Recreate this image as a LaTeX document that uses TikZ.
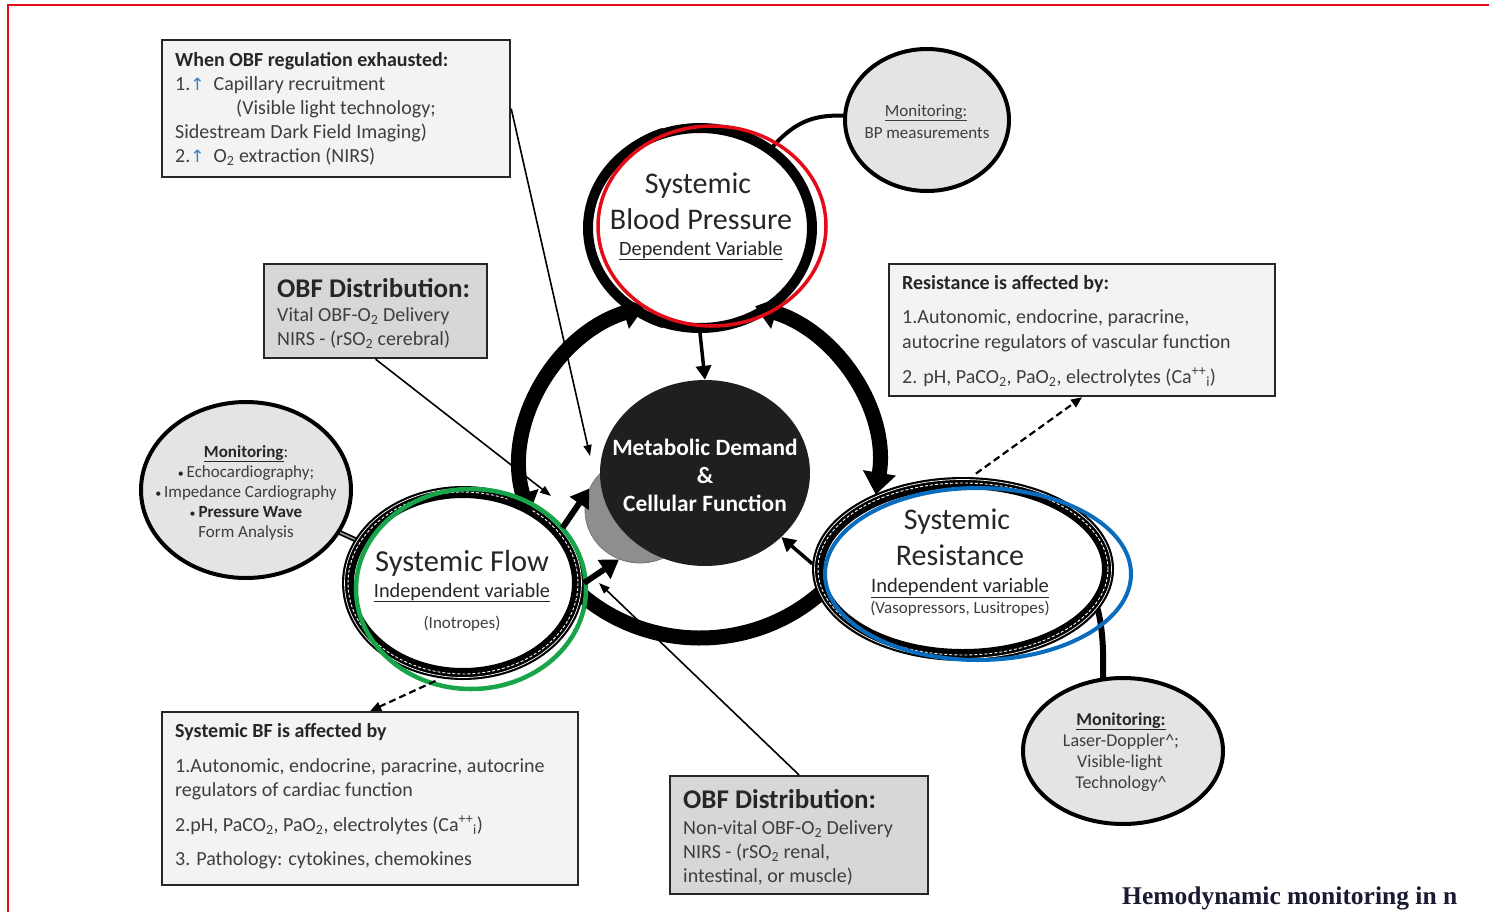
\documentclass[tikz,border=0pt]{standalone}
\usepackage{fontspec}
\setmainfont{Carlito}
\newfontfamily\djv{DejaVu Sans}
\newfontfamily\capfont{Liberation Serif}
\usetikzlibrary{arrows.meta,shapes.geometric,calc}
\definecolor{txt}{HTML}{3E3E3E}
\definecolor{hdr}{HTML}{262626}
\definecolor{boxlight}{HTML}{F3F3F3}
\definecolor{boxgray}{HTML}{D7D7D7}
\definecolor{monfill}{HTML}{E4E4E4}
\definecolor{crescent}{HTML}{8E8E8E}
\definecolor{redc}{HTML}{E30B17}
\definecolor{greenc}{HTML}{18A54A}
\definecolor{bluec}{HTML}{0A6CBC}
\definecolor{capc}{HTML}{1A1A33}
\definecolor{arrc}{HTML}{3B7CC4}
\newcommand{\uparr}{{\djv\color{arrc}\fontsize{17}{17}\selectfont ↑}}
\newcommand{\bul}{{\color{hdr}\fontsize{12}{12}\selectfont •}}
\tikzset{
  lbox/.style={draw=black!85, line width=2.2pt, fill=boxlight, inner sep=0pt, anchor=north west},
  gbox/.style={lbox, fill=boxgray},
  mon/.style={ellipse, draw=black, line width=4pt, fill=monfill, inner sep=0pt},
  ringnode/.style={ellipse, draw=black, line width=12pt, fill=white, inner sep=0pt},
  tl/.style={anchor=base west, inner sep=0pt, text=txt},
  tc/.style={anchor=base, inner sep=0pt, text=txt},
  bigring/.style={line width=15pt, draw=black},
  ringtip/.style={{Triangle[length=22pt,width=32pt]}-{Triangle[length=22pt,width=32pt]}},
  thk/.style={line width=3.5pt, -{Triangle[length=14pt,width=15pt]}},
  fat/.style={line width=6pt, -{Triangle[length=18pt,width=22pt]}},
  thn/.style={line width=1.6pt, -{Triangle[length=11pt,width=8pt]}},
  dsh/.style={line width=2.2pt, dash pattern=on 7pt off 4pt, -{Triangle[length=11pt,width=9pt]}},
}
\begin{document}
\begin{tikzpicture}[x=1pt,y=-1pt]
\useasboundingbox (0,0) rectangle (1489,911);
\clip (0,0) rectangle (1489,911);
\fill[white] (0,0) rectangle (1489,911);
% red frame
\draw[redc, line width=2.2pt] (8,920) -- (8,5) -- (1500,5);

% big ring: bottom arc (under the ellipses)
\draw[bigring] ($(700,468)+(40:178 and 170)$) arc[start angle=40, end angle=140, x radius=178, y radius=170];

% connectors under nodes
\draw[line width=5pt, black] (246,490) -- (462,588);
\draw[line width=4pt] (755,170) .. controls (790,118) and (815,114) .. (850,116);
\draw[line width=6pt] (1095,600) .. controls (1105,630) and (1103,660) .. (1103,690);

% monitoring ellipses
\node[mon, minimum width=210pt, minimum height=176pt] (lmon) at (246,490) {};
\node[mon, minimum width=164pt, minimum height=142pt] (tmon) at (927,120) {};
\node[mon, minimum width=200pt, minimum height=146pt] (brmon) at (1123,751) {};
\draw[line width=1.4pt, gray!70] (lmon) -- (462,588);

% main ellipses
\node[ringnode, minimum width=230pt, minimum height=182pt] (flow) at (463,583) {};
\draw[white, line width=0.9pt, dash pattern=on 3pt off 2pt] (463,583) ellipse[x radius=115, y radius=91];
\draw[white, line width=0.7pt] (463,583) ellipse[x radius=118.5, y radius=94.5];
\node[ringnode, minimum width=290pt, minimum height=172pt] (res) at (963,569) {};
\draw[white, line width=0.9pt, dash pattern=on 3pt off 2pt] (963,569) ellipse[x radius=145, y radius=86];
\draw[white, line width=0.7pt] (963,569) ellipse[x radius=148.5, y radius=89.5];
\node[ellipse, draw=black, line width=10pt, fill=white, inner sep=0pt, minimum width=224pt, minimum height=200pt] (bp) at (700,228) {};
\draw[black, line width=5pt] (700,228) ++(110:108 and 104) arc[start angle=110, end angle=250, x radius=115, y radius=104];

% centre
\node[ellipse, fill=crescent, draw=black!55, line width=0.8pt, inner sep=0pt, minimum width=110pt, minimum height=106pt] (gry) at (640,510) {};
\node[ellipse, fill=black!88, inner sep=0pt, minimum width=210pt, minimum height=186pt] (md) at (705,473) {};

% big ring: side arcs with tips
\draw[bigring, ringtip] ($(700,468)+(252:178 and 170)$) arc[start angle=252, end angle=164, x radius=178, y radius=170];
\draw[bigring, ringtip] ($(700,468)+(288:178 and 170)$) arc[start angle=288, end angle=369, x radius=178, y radius=170];

% coloured annotation ellipses
\draw[redc, line width=3.5pt] (712,226) ellipse[x radius=114, y radius=100];
\draw[greenc, line width=4.5pt] (471,589) ellipse[x radius=115, y radius=100];
\draw[bluec, line width=4pt] (978,574) ellipse[x radius=153, y radius=86];

% boxes
\node[lbox, minimum width=348pt, minimum height=137pt] (tlbox) at (161,39) {};
\node[gbox, minimum width=223pt, minimum height=94pt] (obf1) at (263,263) {};
\node[lbox, minimum width=386pt, minimum height=132pt] (rbox) at (888,263) {};
\node[lbox, minimum width=416pt, minimum height=173pt] (blbox) at (161,711) {};
\node[gbox, minimum width=258pt, minimum height=118pt] (obf2) at (669,775) {};

% arrows
\coordinate (tip1) at (590,456);
\coordinate (tip2) at (551,496);
\coordinate (tip3) at (599,583);
\draw[thk] (bp.south) -- (md.north);
\draw[fat] (flow.29) -- (gry.157);
\draw[fat] (flow.0) -- (gry.-113);
\draw[thk] (res.178) -- (md.-40);
\draw[thn] (tlbox.east) -- (tip1);
\draw[thn] (obf1.south) -- (tip2);
\draw[thn] (obf2.north) -- (tip3);
\draw[dsh, shorten <=6pt] (flow.257) -- (blbox.north);
\draw[dsh, shorten <=6pt] (res.85) -- (rbox.south);

% texts: boxes
\begin{scope}[every node/.append style={font=\fontsize{20}{22}\selectfont}]
\node[tl, text=hdr] (t1a) at (175,66) {\textbf{When OBF regulation exhausted:}};
\node[tl] (t1b) at (175,90) {1.\uparr\ \ Capillary recruitment};
\node[tl] (t1c) at (236,114) {(Visible light technology;};
\node[tl] (t1d) at (175,138) {Sidestream Dark Field Imaging)};
\node[tl] (t1e) at (175,162) {2.\uparr\ \ O\textsubscript{2} extraction (NIRS)};
% OBF1
\node[tl] (o1b) at (277,321) {Vital OBF-O\textsubscript{2} Delivery};
\node[tl] (o1c) at (277,345) {NIRS - (rSO\textsubscript{2} cerebral)};
% resistance box
\node[tl, text=hdr] (r1a) at (902,289) {\textbf{Resistance is affected by:}};
\node[tl] (r1b) at (902,323) {1.Autonomic, endocrine, paracrine,};
\node[tl] (r1c) at (902,348) {autocrine regulators of vascular function};
\node[tl] (r1d) at (902,383) {2. pH, PaCO\textsubscript{2}, PaO\textsubscript{2}, electrolytes (Ca\textsuperscript{++}\textsubscript{i})};
% bottom-left box
\node[tl, text=hdr] (b1a) at (175,737) {\textbf{Systemic BF is affected by}};
\node[tl] (b1b) at (175,772) {1.Autonomic, endocrine, paracrine, autocrine};
\node[tl] (b1c) at (175,796) {regulators of cardiac function};
\node[tl] (b1d) at (175,831) {2.pH, PaCO\textsubscript{2}, PaO\textsubscript{2}, electrolytes (Ca\textsuperscript{++}\textsubscript{i})};
\node[tl] (b1e) at (175,865) {3. Pathology: cytokines, chemokines};
% OBF2
\node[tl] (o2b) at (683,834) {Non-vital OBF-O\textsubscript{2} Delivery};
\node[tl] (o2c) at (683,858) {NIRS - (rSO\textsubscript{2} renal,};
\node[tl] (o2d) at (683,882) {intestinal, or muscle)};
\end{scope}
\node[tl, text=hdr, font=\fontsize{27}{29}\selectfont\bfseries] (o1a) at (277,297) {OBF Distribution:};
\node[tl, text=hdr, font=\fontsize{27}{29}\selectfont\bfseries] (o2a) at (683,808) {OBF Distribution:};

% left monitoring
\begin{scope}[every node/.append style={font=\fontsize{17}{19}\selectfont}]
\node[tc, text=hdr] (m1a) at (246,457) {\textbf{\underline{Monitoring}}:};
\node[tc] (m1b) at (246,477) {\bul\,Echocardiography;};
\node[tc] (m1c) at (246,497) {\bul\,Impedance Cardiography};
\node[tc, text=hdr] (m1d) at (246,517) {\bul\,\textbf{Pressure Wave}};
\node[tc] (m1e) at (246,537) {Form Analysis};
\end{scope}
% bottom-right monitoring
\begin{scope}[every node/.append style={font=\fontsize{18}{20}\selectfont}]
\node[tc, text=hdr] (m3a) at (1121,725) {\textbf{\underline{Monitoring:}}};
\node[tc] (m3b) at (1121,746) {Laser-Doppler\textasciicircum;};
\node[tc] (m3c) at (1120,767) {Visible-light};
\node[tc] (m3d) at (1121,788) {Technology\textasciicircum};
\end{scope}
% top monitoring
\node[tc, font=\fontsize{17}{19}\selectfont] (m2a) at (926,116) {\underline{Monitoring:}};
\node[tc, font=\fontsize{17}{19}\selectfont] (m2b) at (927,138) {BP measurements};

% BP
\node[tc, text=hdr, font=\fontsize{30}{32}\selectfont] (bpa) at (698,193) {Systemic};
\node[tc, text=hdr, font=\fontsize{30}{32}\selectfont] (bpb) at (701,229) {Blood Pressure};
\node[tc, text=hdr, font=\fontsize{20.3}{22}\selectfont] (bpc) at (701,255) {\underline{Dependent Variable}};

% Flow
\node[tc, text=hdr, font=\fontsize{30.5}{32}\selectfont] (fa) at (462,571) {Systemic Flow};
\node[tc, text=hdr, font=\fontsize{20.3}{22}\selectfont] (fb) at (462,597) {\underline{Independent variable}};
\node[tc, font=\fontsize{17}{19}\selectfont] (fc) at (462,628) {(Inotropes)};

% Resistance
\node[tc, text=hdr, font=\fontsize{30}{32}\selectfont] (ra) at (957,529) {Systemic};
\node[tc, text=hdr, font=\fontsize{30}{32}\selectfont] (rb) at (960,565) {Resistance};
\node[tc, text=hdr, font=\fontsize{20.5}{22}\selectfont] (rc) at (960,592) {\underline{Independent variable}};
\node[tc, font=\fontsize{17}{19}\selectfont] (rd) at (960,613) {(Vasopressors, Lusitropes)};

% centre text
\node[tc, text=white, font=\fontsize{23.4}{25}\selectfont\bfseries] (ca) at (705,455) {Metabolic Demand};
\node[tc, text=white, font=\fontsize{23.4}{25}\selectfont\bfseries] (cb) at (705,483) {\&};
\node[tc, text=white, font=\fontsize{23.4}{25}\selectfont\bfseries] (cc) at (705,511) {Cellular Function};

% caption
\node[anchor=base west, inner sep=0pt, text=capc, font=\capfont\bfseries\fontsize{25.5}{27}\selectfont] (cap) at (1122,904) {Hemodynamic monitoring in n};
\end{tikzpicture}
\end{document}
